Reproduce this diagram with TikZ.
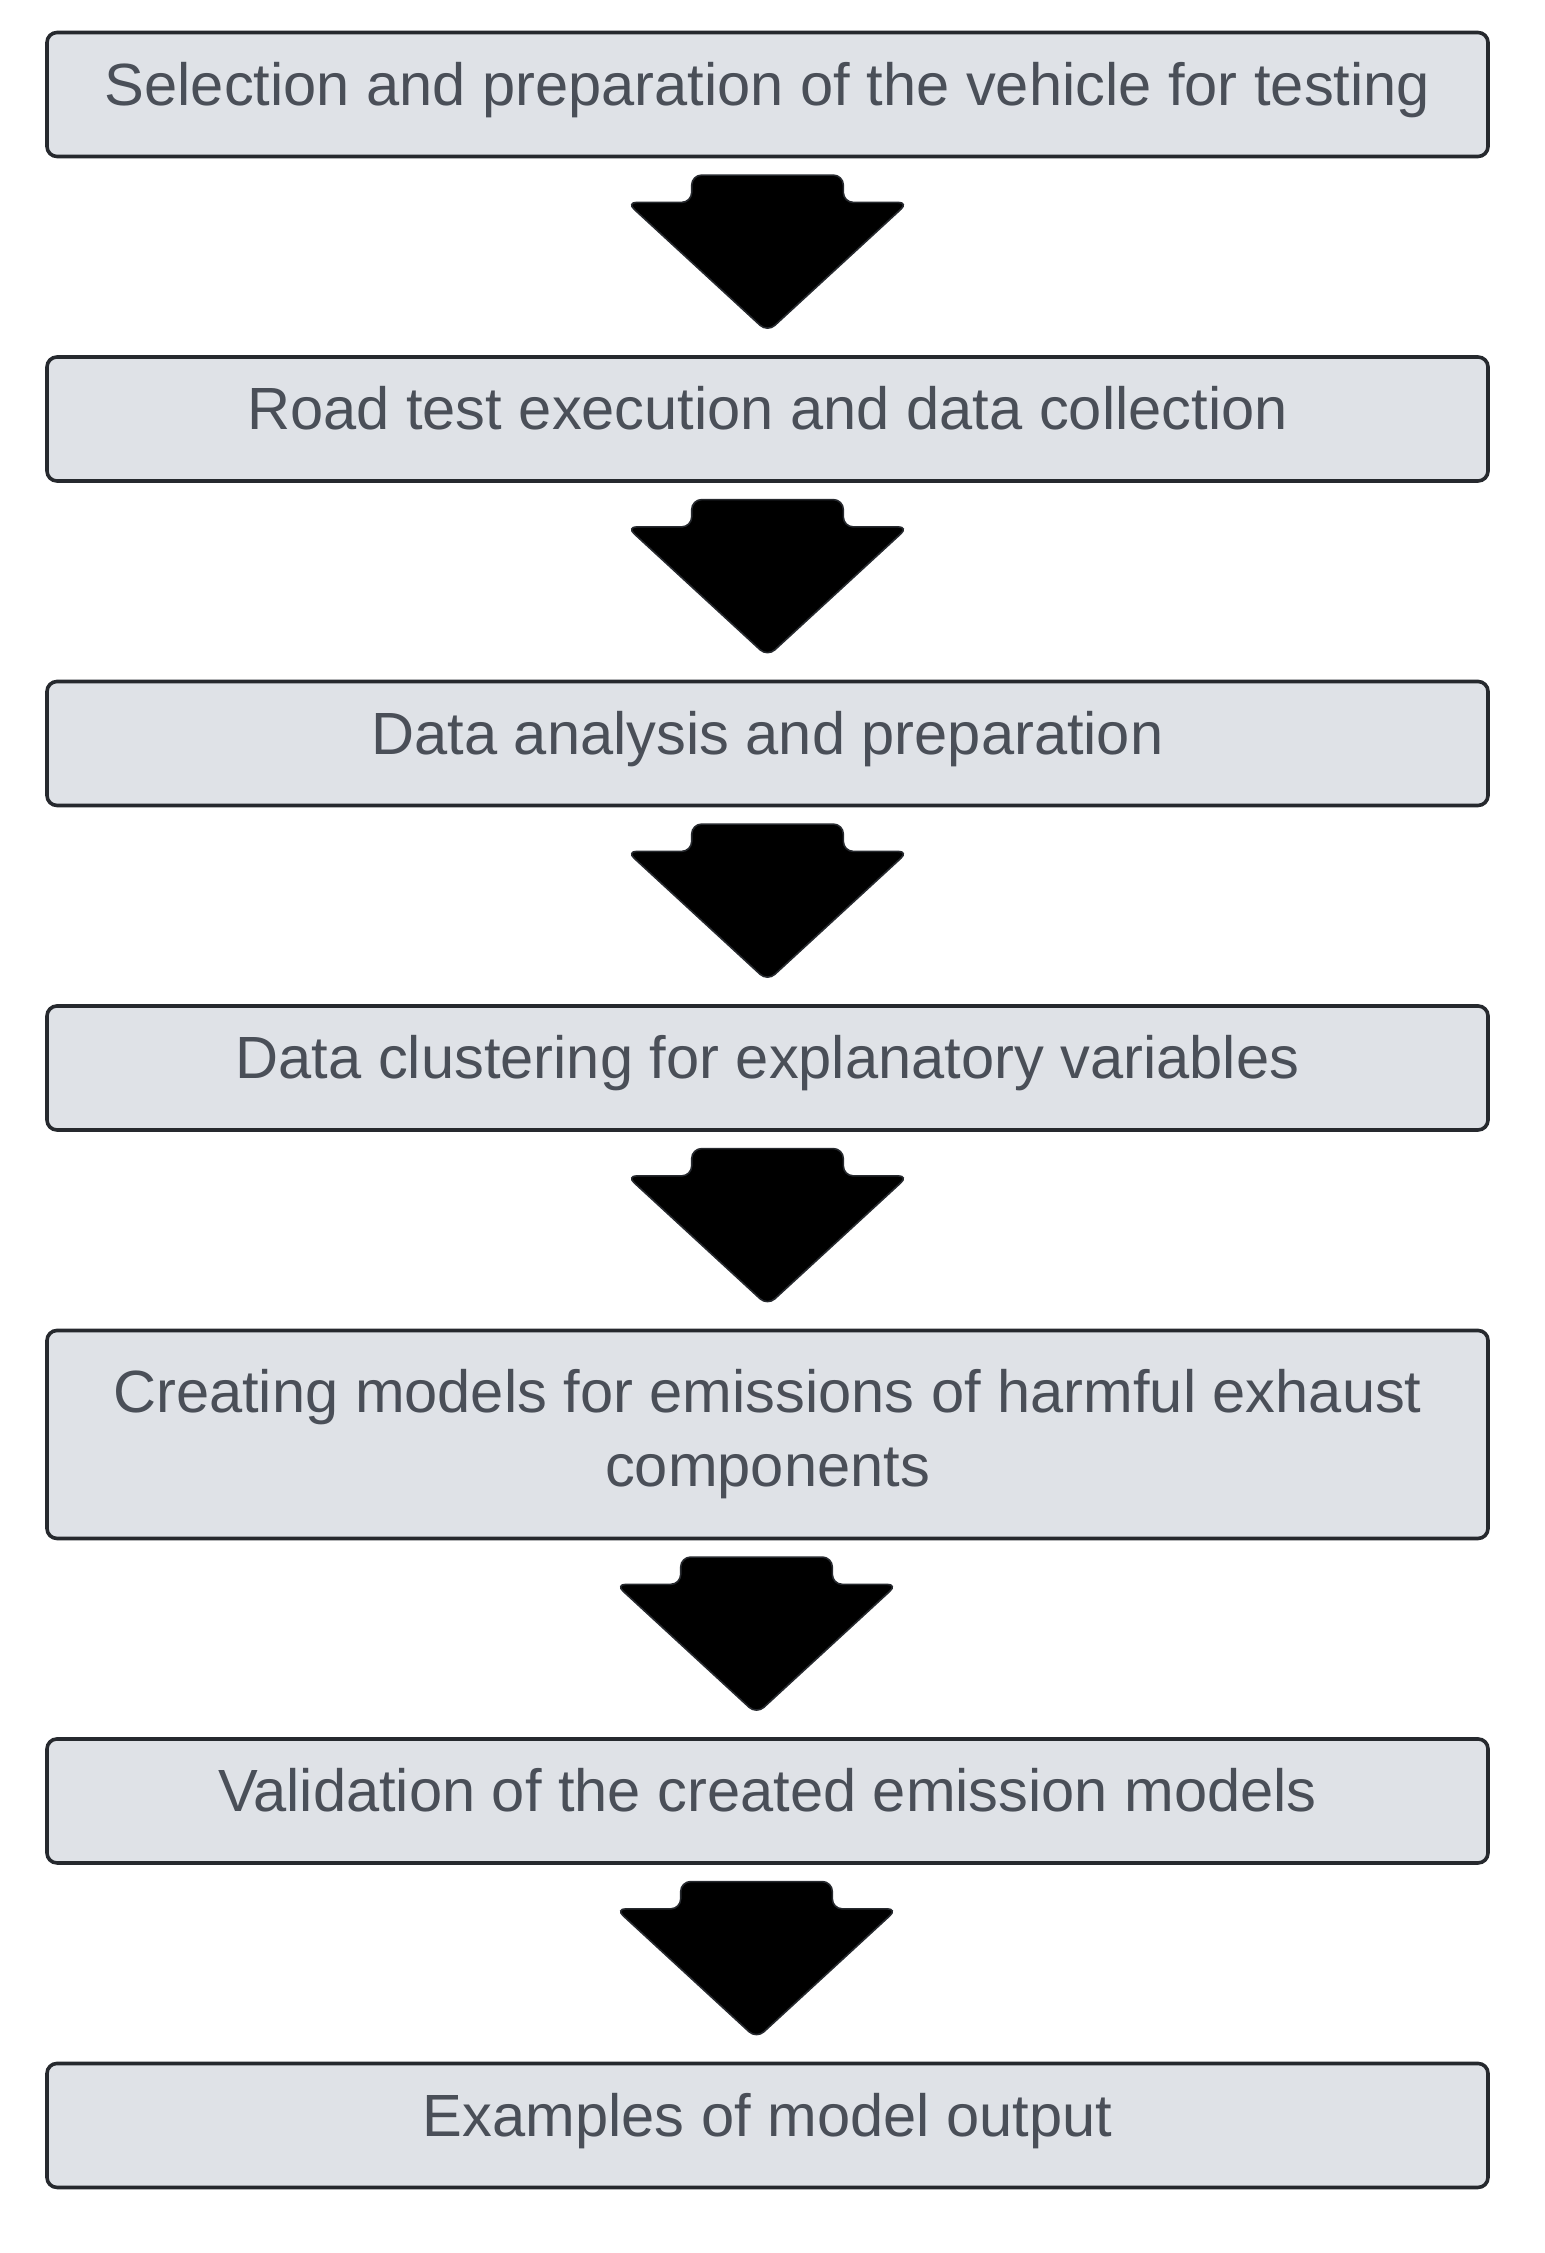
\documentclass[tikz,border=0pt]{standalone}
\usepackage{fontspec}
\setmainfont{Liberation Sans}
\usetikzlibrary{positioning,shapes.arrows}
\definecolor{boxfill}{RGB}{223,226,231}
\definecolor{boxline}{RGB}{38,41,46}
\definecolor{boxtext}{RGB}{74,79,88}

\begin{document}
\begin{tikzpicture}[
  font=\fontsize{29.8}{37}\selectfont,
  box/.style={draw=boxline, line width=1.8pt, fill=boxfill, text=boxtext, rounded corners=5pt, align=center, minimum width=720.5pt, minimum height=62pt, inner sep=0pt},
  oneline/.style={box, text height=21.2pt, text depth=10.6pt},
  downarrow/.style={single arrow, draw=boxline, line width=0.8pt, fill=black, rotate=-90, minimum height=78.5pt, minimum width=140pt, single arrow head extend=32.5pt, single arrow tip angle=94.7, rounded corners=5pt, inner xsep=0pt, inner ysep=37.5pt, anchor=tail},
  gapin/.style={yshift=-8pt},
]
\useasboundingbox (0,0) rectangle (772pt,-1126.5pt);
\node[oneline] (select) at (383.75pt,-47.25pt) {Selection and preparation of the vehicle for testing};
\node[downarrow] (a1) at ([gapin]select.south) {};
\node[oneline, below=11pt of a1.tip] (road) {Road test execution and data collection};
\node[downarrow] (a2) at ([gapin]road.south) {};
\node[oneline, below=11pt of a2.tip] (prep) {Data analysis and preparation};
\node[downarrow] (a3) at ([gapin]prep.south) {};
\node[oneline, below=11pt of a3.tip] (cluster) {Data clustering for explanatory variables};
\node[downarrow] (a4) at ([gapin]cluster.south) {};
\node[box, minimum height=104pt, below=11pt of a4.tip] (models) {Creating models for emissions of harmful exhaust\\components};
\node[downarrow] (a5) at ([gapin, xshift=-5.5pt]models.south) {};
\node[oneline, below=11pt of a5.tip, xshift=5.5pt] (valid) {Validation of the created emission models};
\node[downarrow] (a6) at ([gapin, xshift=-5.5pt]valid.south) {};
\node[oneline, below=11pt of a6.tip, xshift=5.5pt] (output) {Examples of model output};
\end{tikzpicture}
\end{document}
